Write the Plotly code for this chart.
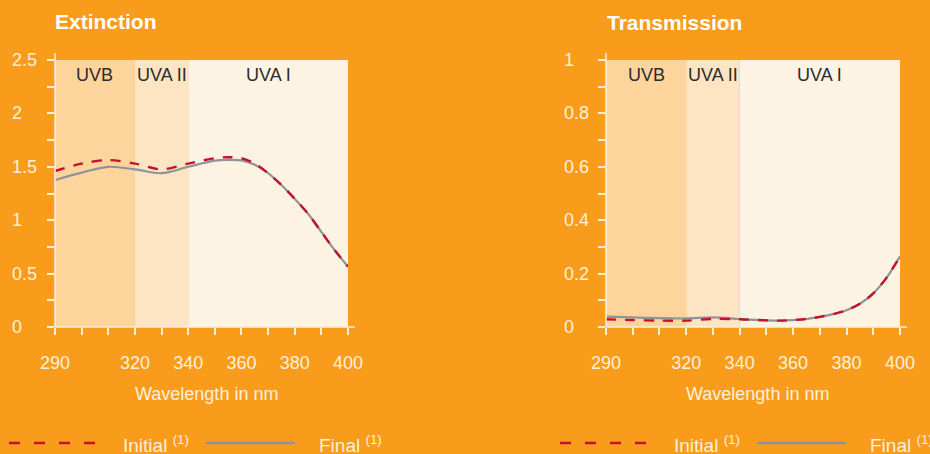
import plotly.graph_objects as go

# ---------------- data ----------------
wavelength = [290, 300, 310, 320, 330, 340, 350, 355, 360, 365, 370, 375, 380, 385, 390, 395, 400]

ext_initial = [1.46, 1.53, 1.563, 1.53, 1.476, 1.53, 1.58, 1.59, 1.58, 1.53, 1.44, 1.33, 1.20, 1.06, 0.89, 0.72, 0.565]
ext_final   = [1.376, 1.445, 1.50, 1.476, 1.44, 1.50, 1.557, 1.565, 1.56, 1.52, 1.44, 1.33, 1.20, 1.06, 0.89, 0.72, 0.565]

tra_initial = [0.029, 0.026, 0.024, 0.024, 0.030, 0.029, 0.025, 0.024, 0.026, 0.030, 0.038, 0.048, 0.063, 0.087, 0.126, 0.185, 0.265]
tra_final   = [0.039, 0.036, 0.033, 0.032, 0.036, 0.030, 0.025, 0.024, 0.026, 0.030, 0.038, 0.048, 0.063, 0.087, 0.126, 0.185, 0.265]

bands = [("UVB", 290, 320), ("UVA II", 320, 340), ("UVA I", 340, 400)]
band_colors = ["#FDD49B", "#FDE4C3", "#FDF3E3"]

x_tickvals = [290, 300, 310, 320, 330, 340, 350, 360, 370, 380, 390, 400]
x_ticktext = ["290", "", "", "320", "", "340", "", "360", "", "380", "", "400"]

ext_tickvals = [0, 0.25, 0.5, 0.75, 1, 1.25, 1.5, 1.75, 2, 2.25, 2.5]
ext_ticktext = ["0", "", "0.5", "", "1", "", "1.5", "", "2", "", "2.5"]

tra_tickvals = [0, 0.1, 0.2, 0.3, 0.4, 0.5, 0.6, 0.7, 0.8, 0.9, 1.0]
tra_ticktext = ["0", "", "0.2", "", "0.4", "", "0.6", "", "0.8", "", "1"]

titles = ["Extinction", "Transmission"]
xlabel = "Wavelength in nm"
legend_names = ["Initial <sup>(1)</sup>", "Final <sup>(1)</sup>"]

# ---------------- style ----------------
BG = "#F99C1C"
CREAM = "#FDF0DA"
RED = "#C8102E"
GRAY = "#8E9397"
FONT = "Liberation Sans, Arial, sans-serif"
W, H = 930, 454

def px_x(p):
    return p / W

def px_y(p):
    return (H - p) / H

dom_y = [px_y(327), px_y(60)]
dom_x1 = [px_x(55), px_x(348)]
dom_x2 = [px_x(606), px_x(900)]

fig = go.Figure()

for i, (ini, fin) in enumerate([(ext_initial, ext_final), (tra_initial, tra_final)]):
    xa = "x" if i == 0 else "x2"
    ya = "y" if i == 0 else "y2"
    fig.add_trace(go.Scatter(x=wavelength, y=fin, mode="lines", line=dict(color=GRAY, width=2.2, shape="spline", smoothing=0.9),
                             xaxis=xa, yaxis=ya, showlegend=False, hoverinfo="skip"))
    fig.add_trace(go.Scatter(x=wavelength, y=ini, mode="lines", line=dict(color=RED, width=2.4, dash="10px,9px", shape="spline", smoothing=0.9),
                             xaxis=xa, yaxis=ya, showlegend=False, hoverinfo="skip"))

shapes = []
annotations = []
label_x = [10, 562]
for i in range(2):
    xr = "x" if i == 0 else "x2"
    yr = "y" if i == 0 else "y2"
    for (name, x0, x1), col in zip(bands, band_colors):
        shapes.append(dict(type="rect", xref=xr, yref=yr + " domain", x0=x0, x1=x1, y0=0, y1=1,
                           fillcolor=col, line=dict(width=0), layer="below"))
        annotations.append(dict(xref=xr, yref=yr + " domain", x=(x0 + x1) / 2, y=0.944, text=name,
                                showarrow=False, font=dict(family=FONT, size=18, color="#2B2B2B"),
                                xanchor="center", yanchor="middle"))
    # axis lines (slightly extended)
    shapes.append(dict(type="line", xref=xr + " domain", yref=yr + " domain", x0=0, x1=1.024, y0=0, y1=0,
                       line=dict(color=CREAM, width=1.5), layer="above"))
    shapes.append(dict(type="line", xref=xr + " domain", yref=yr + " domain", x0=0, x1=0, y0=0, y1=1.026,
                       line=dict(color=CREAM, width=1.5), layer="above"))
    # left-aligned y tick labels
    tv, tt = (ext_tickvals, ext_ticktext) if i == 0 else (tra_tickvals, tra_ticktext)
    for v, t in zip(tv, tt):
        if t:
            annotations.append(dict(xref="paper", yref=yr, x=px_x(label_x[i]), y=v, text=t, showarrow=False,
                                    xanchor="left", yanchor="middle",
                                    font=dict(family=FONT, size=18, color=CREAM)))

# titles
annotations.append(dict(xref="paper", yref="paper", x=px_x(53), y=px_y(21), text="<b>Extinction</b>", showarrow=False,
                        xanchor="left", yanchor="middle", font=dict(family=FONT, size=21, color="white")))
annotations.append(dict(xref="paper", yref="paper", x=px_x(605), y=px_y(22), text="<b>Transmission</b>", showarrow=False,
                        xanchor="left", yanchor="middle", font=dict(family=FONT, size=21, color="white")))

# x axis titles
for cx in [206, 757]:
    annotations.append(dict(xref="paper", yref="paper", x=px_x(cx), y=px_y(394), text=xlabel, showarrow=False,
                            xanchor="center", yanchor="middle", font=dict(family=FONT, size=18, color=CREAM)))

# manual legends
for off in [0, 551]:
    shapes.append(dict(type="line", xref="paper", yref="paper", x0=px_x(9 + off), x1=px_x(100 + off),
                       y0=px_y(443), y1=px_y(443), line=dict(color=RED, width=2.4, dash="11px,14px")))
    shapes.append(dict(type="line", xref="paper", yref="paper", x0=px_x(206 + off), x1=px_x(295 + off),
                       y0=px_y(443), y1=px_y(443), line=dict(color=GRAY, width=2.4)))
    annotations.append(dict(xref="paper", yref="paper", x=px_x(121 + off), y=px_y(444), text=legend_names[0],
                            showarrow=False, xanchor="left", yanchor="middle",
                            font=dict(family=FONT, size=19, color=CREAM)))
    annotations.append(dict(xref="paper", yref="paper", x=px_x(317 + off), y=px_y(444), text=legend_names[1],
                            showarrow=False, xanchor="left", yanchor="middle",
                            font=dict(family=FONT, size=19, color=CREAM)))

tickfont = dict(family=FONT, size=18, color=CREAM)
xcommon = dict(range=[290, 400], tickmode="array", tickvals=x_tickvals, ticktext=x_ticktext, ticks="outside",
               ticklen=7, tickwidth=1.5, tickcolor=CREAM, showgrid=False, zeroline=False, showline=False,
               tickfont=tickfont, ticklabelstandoff=12, fixedrange=True, automargin=False)
ycommon = dict(tickmode="array", ticks="outside", ticklen=7, tickwidth=1.5, tickcolor=CREAM, showgrid=False,
               zeroline=False, showline=False, showticklabels=False, fixedrange=True, automargin=False)

fig.update_layout(
    width=W, height=H,
    margin=dict(l=0, r=0, t=0, b=0, autoexpand=False),
    paper_bgcolor=BG, plot_bgcolor=BG,
    showlegend=False,
    xaxis=dict(domain=dom_x1, anchor="y", **xcommon),
    yaxis=dict(domain=dom_y, anchor="x", range=[0, 2.5], tickvals=ext_tickvals, ticktext=ext_ticktext, **ycommon),
    xaxis2=dict(domain=dom_x2, anchor="y2", **xcommon),
    yaxis2=dict(domain=dom_y, anchor="x2", range=[0, 1], tickvals=tra_tickvals, ticktext=tra_ticktext, **ycommon),
    shapes=shapes,
    annotations=annotations,
)

fig.write_html("out.html", config={"displayModeBar": False},
               post_script="document.body.style.margin='0';document.body.style.overflow='hidden';")
